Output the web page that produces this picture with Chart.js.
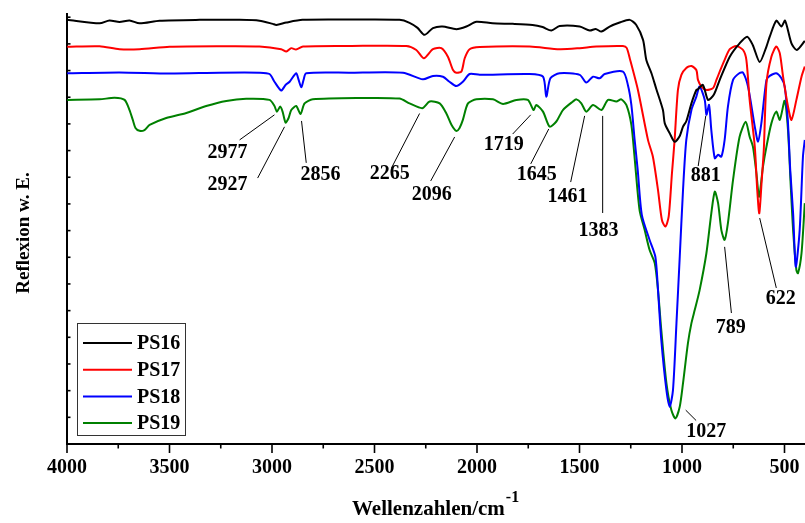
<!DOCTYPE html>
<html>
<head>
<meta charset="utf-8">
<script src="https://cdn.jsdelivr.net/npm/chart.js@4.4.0/dist/chart.umd.min.js"></script>
<style>
  html, body { margin: 0; padding: 0; background: #fff; }
  #wrap { width: 805px; height: 523px; }
</style>
</head>
<body>
<div id="wrap"><canvas id="ir-chart" width="805" height="523"></canvas></div>
<script>
// wavenumber (cm-1) / reflexion pairs
var ps16Wn  = [3999,3841,3793,3744,3695,3646,3549,3353,3158,3061,2996,2979,2930,2851,2622,2378,2329,2290,2256,2215,2168,2101,2052,2003,1924,1826,1729,1680,1637,1597,1499,1450,1421,1393,1353,1304,1255,1223,1190,1174,1149,1125,1093,1084,1060,1036,1011,995,979,954,930,922,898,873,845,816,767,719,682,655,621,588,572,540,515,497,466,440,401];
var ps16Val = [15.90,15.77,15.88,15.82,15.88,15.77,15.87,15.90,15.90,15.87,15.75,15.71,15.80,15.90,15.91,15.90,15.79,15.60,15.34,15.59,15.65,15.55,15.65,15.83,15.77,15.75,15.71,15.63,15.50,15.67,15.65,15.50,15.56,15.46,15.65,15.80,15.90,15.71,15.15,14.40,13.90,13.30,12.52,12.02,11.65,11.33,11.55,11.90,12.10,12.77,13.27,13.30,13.46,12.90,13.09,13.65,14.52,15.02,15.27,14.96,14.32,14.90,15.27,15.87,15.65,15.87,15.02,14.77,15.11];

var ps17Wn  = [3999,3841,3744,3646,3500,3256,3061,2955,2930,2906,2883,2849,2622,2345,2296,2259,2215,2174,2142,2117,2101,2076,2060,2036,1987,1743,1597,1499,1418,1288,1270,1255,1215,1166,1142,1117,1098,1081,1065,1049,1036,1020,1003,979,954,930,922,905,881,849,832,816,792,767,735,702,686,670,645,633,623,611,601,588,564,540,523,507,483,466,442,417,401];
var ps17Val = [14.89,14.91,14.80,14.80,14.89,14.91,14.90,14.80,14.71,14.84,14.79,14.90,14.92,14.92,14.77,14.46,14.80,14.84,14.52,14.02,13.92,13.96,14.46,14.80,14.88,14.90,14.80,14.84,14.90,14.92,14.85,14.46,13.27,11.40,10.77,9.52,8.40,8.15,8.52,10.15,11.40,13.27,13.84,14.10,14.17,14.02,13.65,13.40,13.27,13.34,13.65,13.96,14.40,14.80,14.92,14.77,14.40,12.90,11.15,9.52,8.65,9.90,11.02,13.52,14.52,14.90,14.65,13.77,12.65,12.15,12.90,13.77,14.15];

var ps18Wn  = [3999,3744,3500,3256,3061,3012,2988,2955,2934,2914,2882,2870,2857,2846,2833,2622,2361,2264,2215,2166,2134,2101,2069,2036,1987,1743,1678,1662,1642,1597,1499,1467,1434,1402,1377,1288,1264,1247,1231,1216,1196,1158,1130,1117,1101,1076,1060,1044,1027,1011,995,979,954,930,914,889,881,868,857,840,824,808,792,776,751,719,702,678,645,629,613,588,572,540,515,499,484,472,458,445,426,410,401];
var ps18Val = [13.90,13.93,13.89,13.92,13.92,13.87,13.58,13.25,13.46,13.58,13.90,13.65,13.37,13.65,13.90,13.92,13.92,13.67,13.80,13.77,13.58,13.42,13.58,13.87,13.84,13.87,13.77,13.02,13.71,13.90,13.84,13.55,13.77,13.71,13.87,13.96,13.46,12.71,11.40,10.27,8.59,7.65,7.02,5.77,3.90,2.02,1.40,2.02,4.53,7.02,9.52,11.40,12.52,13.02,13.40,12.90,12.34,12.71,11.77,10.71,10.84,10.77,11.40,12.65,13.65,13.91,13.92,13.40,11.90,11.34,12.02,13.65,13.80,13.90,13.71,13.40,12.15,10.27,8.65,6.65,8.02,10.77,11.40];

var ps19Wn  = [3999,3841,3768,3719,3695,3679,3666,3646,3622,3597,3516,3418,3321,3223,3126,3012,2988,2976,2960,2948,2934,2919,2906,2882,2861,2841,2801,2573,2378,2329,2267,2231,2182,2150,2124,2101,2085,2069,2044,2003,1922,1873,1808,1752,1724,1711,1678,1646,1613,1581,1532,1515,1491,1467,1434,1393,1361,1320,1296,1271,1247,1231,1207,1182,1158,1133,1117,1101,1076,1052,1032,1011,995,971,954,938,914,881,857,840,824,808,792,776,751,719,689,670,654,637,624,605,588,564,540,523,499,483,471,458,442,434,417,401];
var ps19Val = [12.90,12.92,12.98,12.90,12.52,12.15,11.85,11.74,11.77,11.96,12.22,12.41,12.67,12.86,12.94,12.90,12.67,12.46,12.65,12.45,12.05,12.22,12.52,12.67,12.37,12.77,12.92,12.97,12.95,12.77,12.59,12.84,12.77,12.40,11.96,11.74,11.85,12.15,12.77,12.92,12.92,12.75,12.90,12.90,12.52,12.71,12.46,11.90,12.09,12.52,12.84,12.92,12.77,12.46,12.71,12.52,12.90,12.84,12.92,12.70,11.96,10.72,8.77,8.02,7.27,6.78,5.77,4.27,2.28,1.27,0.96,1.40,2.28,3.78,4.53,5.02,5.77,7.15,8.65,9.46,9.03,8.02,7.65,8.28,9.90,11.52,12.08,11.52,11.15,10.15,9.27,10.40,11.15,12.02,12.46,12.15,12.87,11.77,9.90,8.02,6.52,6.40,7.15,9.03];

var seriesNames = ['PS16', 'PS17', 'PS18', 'PS19'];
var seriesColors = ['#000000', '#ff0000', '#0000ff', '#008000'];
var xTickLabels = [4000, 3500, 3000, 2500, 2000, 1500, 1000, 500];
var peakLabels = ['2977', '2927', '2856', '2265', '2096', '1719', '1645', '1461', '1383', '881', '1027', '789', '622'];

// leader line start, leader line end, text centre for each peak label (wavenumber, value)
var noteLayout = [
  [3158, 11.40, 2988, 12.34, 3217, 10.91],
  [3070, 9.97, 2939, 11.89, 3217, 9.71],
  [2856, 12.11, 2833, 10.54, 2763, 10.10],
  [2417, 10.35, 2280, 12.39, 2426, 10.12],
  [2226, 9.86, 2109, 11.51, 2221, 9.34],
  [1826, 11.62, 1738, 12.34, 1870, 11.21],
  [1738, 10.50, 1650, 11.81, 1709, 10.10],
  [1543, 9.82, 1475, 12.30, 1558, 9.26],
  [1387, 12.30, 1387, 8.66, 1407, 8.00],
  [921, 10.42, 884, 12.30, 884, 10.04],
  [982, 1.27, 931, 0.88, 882, 0.45],
  [792, 7.39, 759, 4.91, 762, 4.37],
  [621, 8.47, 540, 5.85, 518, 5.44]
];

function pairs(wn, val) {
  return wn.map(function (w, i) { return { x: w, y: val[i] }; });
}

var serif = 'Liberation Serif, Times New Roman, serif';

var extras = {
  id: 'extras',
  afterDraw: function (chart) {
    var ctx = chart.ctx, xs = chart.scales.x, ys = chart.scales.y, area = chart.chartArea;
    ctx.save();
    ctx.strokeStyle = '#000';
    ctx.fillStyle = '#000';

    // x ticks, outward, long at 500 steps
    ctx.lineWidth = 1.6;
    for (var w = 4000; w >= 500; w -= 250) {
      var px = xs.getPixelForValue(w);
      var len = (w % 500 === 0) ? 9 : 4.5;
      ctx.beginPath();
      ctx.moveTo(px, area.bottom);
      ctx.lineTo(px, area.bottom + len);
      ctx.stroke();
    }
    // y ticks, inward
    for (var v = 1; v <= 16; v++) {
      var py = ys.getPixelForValue(v);
      ctx.beginPath();
      ctx.moveTo(area.left, py);
      ctx.lineTo(area.left + 3.5, py);
      ctx.stroke();
    }

    // peak labels
    ctx.lineWidth = 1;
    ctx.font = 'bold 20px ' + serif;
    ctx.textAlign = 'center';
    ctx.textBaseline = 'middle';
    noteLayout.forEach(function (n, i) {
      ctx.beginPath();
      ctx.moveTo(xs.getPixelForValue(n[0]), ys.getPixelForValue(n[1]));
      ctx.lineTo(xs.getPixelForValue(n[2]), ys.getPixelForValue(n[3]));
      ctx.stroke();
      ctx.fillText(peakLabels[i], xs.getPixelForValue(n[4]), ys.getPixelForValue(n[5]));
    });

    // legend box
    ctx.strokeStyle = '#333';
    ctx.lineWidth = 1;
    ctx.strokeRect(77.5, 323.5, 108, 112);
    ctx.textAlign = 'left';
    seriesNames.forEach(function (name, i) {
      var ly = 343 + i * 26.7;
      ctx.strokeStyle = seriesColors[i];
      ctx.lineWidth = 2;
      ctx.beginPath();
      ctx.moveTo(83, ly);
      ctx.lineTo(132, ly);
      ctx.stroke();
      ctx.fillStyle = '#000';
      ctx.fillText(name, 137, ly + 1);
    });

    // axis titles
    ctx.fillStyle = '#000';
    ctx.textBaseline = 'alphabetic';
    ctx.font = 'bold 21px ' + serif;
    var main = 'Wellenzahlen/cm';
    ctx.fillText(main, 352, 514.5);
    var mw = ctx.measureText(main).width;
    ctx.font = 'bold 16px ' + serif;
    ctx.fillText('-1', 352 + mw + 1, 502);

    ctx.translate(24, 233);
    ctx.rotate(-Math.PI / 2);
    ctx.textAlign = 'center';
    ctx.textBaseline = 'middle';
    ctx.font = 'bold 19px ' + serif;
    ctx.fillText('Reflexion w. E.', 0, 0);
    ctx.restore();
  }
};

var allWn = [ps16Wn, ps17Wn, ps18Wn, ps19Wn];
var allVal = [ps16Val, ps17Val, ps18Val, ps19Val];

new Chart(document.getElementById('ir-chart'), {
  type: 'line',
  data: {
    datasets: seriesNames.map(function (name, i) {
      return {
        label: name,
        data: pairs(allWn[i], allVal[i]),
        borderColor: seriesColors[i],
        borderWidth: 2,
        pointRadius: 0,
        tension: 0.25,
        fill: false
      };
    })
  },
  options: {
    responsive: false,
    animation: false,
    devicePixelRatio: 1,
    layout: { padding: { left: 67, top: 14, right: 0, bottom: 43 } },
    plugins: {
      legend: { display: false },
      tooltip: { enabled: false }
    },
    scales: {
      x: {
        type: 'linear',
        reverse: true,
        min: 400,
        max: 4000,
        grid: { display: true, drawOnChartArea: false, drawTicks: true, tickLength: 12, tickColor: 'rgba(0,0,0,0)' },
        border: { display: true, color: '#000', width: 2 },
        afterBuildTicks: function (axis) {
          axis.ticks = xTickLabels.map(function (v) { return { value: v }; });
        },
        ticks: {
          autoSkip: false,
          maxRotation: 0,
          padding: 0,
          color: '#000',
          font: { family: serif, size: 20, weight: 'bold' },
          callback: function (v) { return String(v); }
        }
      },
      y: {
        type: 'linear',
        min: 0,
        max: 16.12,
        grid: { display: false, drawTicks: false },
        border: { display: true, color: '#000', width: 2 },
        ticks: { display: false }
      }
    }
  },
  plugins: [extras]
});
</script>
</body>
</html>
